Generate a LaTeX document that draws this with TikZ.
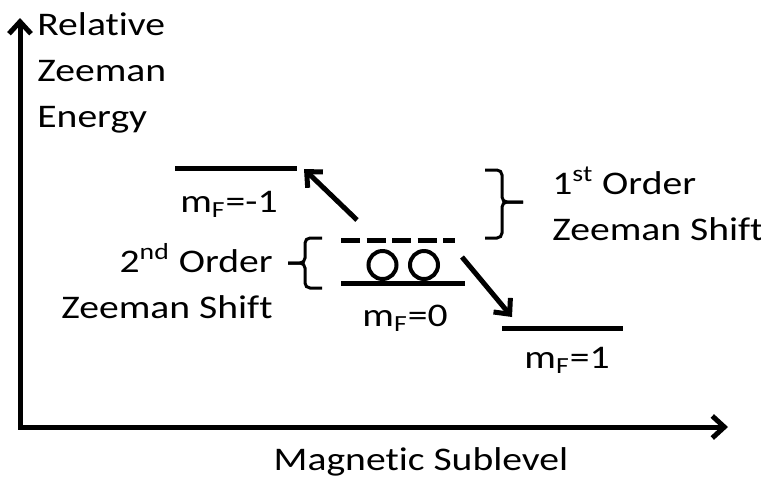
\documentclass[tikz,border=0pt]{standalone}
\usepackage{fontspec}
\setmainfont{Carlito}[FakeStretch=1.2, Ligatures=NoCommon]
\usetikzlibrary{arrows.meta,positioning}
\tikzset{
axis/.style      = {line width=2.5pt, line join=miter},
level/.style     = {line width=2.5pt},
dashlevel/.style = {line width=2.5pt, dash pattern=on 9.5pt off 3.25pt},
jump/.style      = {line width=2.5pt, ->},
ring/.style      = {draw, circle, line width=2pt, minimum size=14pt, inner sep=0pt},
brace/.style     = {line width=1.5pt, rounded corners=2.5pt},
lbl/.style       = {inner sep=0pt, font=\fontsize{16.5}{23}\selectfont}
}

\begin{document}
\begin{tikzpicture}[x=0.5pt, y=-0.5pt, >={Straight Barb[length=6pt,width=11pt]}]
  \useasboundingbox (0,0) rectangle (761,479);
  \coordinate (ytop)   at (20,18);
  \coordinate (origin) at (20,427);
  \coordinate (xend)   at (728,427);

  \coordinate (m1a)  at (175,168);
  \coordinate (m1b)  at (297,168);
  \coordinate (dsha) at (341,240);
  \coordinate (dshb) at (455,240);
  \coordinate (m0a)  at (341,283);
  \coordinate (m0b)  at (465,283);
  \coordinate (p1a)  at (502,328);
  \coordinate (p1b)  at (623,328);
  \coordinate (upst) at (357,220);
  \coordinate (upto) at (304,169);
  \coordinate (dnst) at (462,257);
  \coordinate (dnto) at (512,317);

  \node [ring] (ringa) at (382.5,265) {};
  \node [ring, right=20.75pt of ringa.center, anchor=center] (ringb) {};

  \node [lbl, anchor=base west, align=left]  (yname) at (37,127)  {Relative\\Zeeman\\Energy};
  \node [lbl, anchor=base]                   (xname) at (421,470) {Magnetic Sublevel};
  \node [lbl, anchor=base]                   (lm1)   at (229,212) {m\textsubscript{F}=-1};
  \node [lbl, anchor=base]                   (l0)    at (405,326) {m\textsubscript{F}=0};
  \node [lbl, anchor=base]                   (lp1)   at (567,368) {m\textsubscript{F}=1};
  \node [lbl, anchor=base west, align=left]  (first) at (552,240) {1\textsuperscript{st} Order\\Zeeman Shift};
  \node [lbl, anchor=base east, align=right] (secnd) at (273,318) {2\textsuperscript{nd} Order\\Zeeman Shift};

  \draw [axis, <->] (ytop) -- (origin) -- (xend);

  \draw [level] (m1a) -- (m1b);
  \draw [dashlevel] (dsha) -- (dshb);
  \draw [level] (m0a) -- (m0b);
  \draw [level] (p1a) -- (p1b);

  \draw [jump] (upst) -- (upto);
  \draw [jump] (dnst) -- (dnto);

  \draw [brace] (485,170) -- (502,170) -- (502,202) -- (523,202);
  \draw [brace] (523,202) -- (502,202) -- (502,238) -- (485,238);
  \draw [brace] (322,238) -- (305,238) -- (305,263) -- (288,263);
  \draw [brace] (288,263) -- (305,263) -- (305,288) -- (322,288);
\end{tikzpicture}
\end{document}
